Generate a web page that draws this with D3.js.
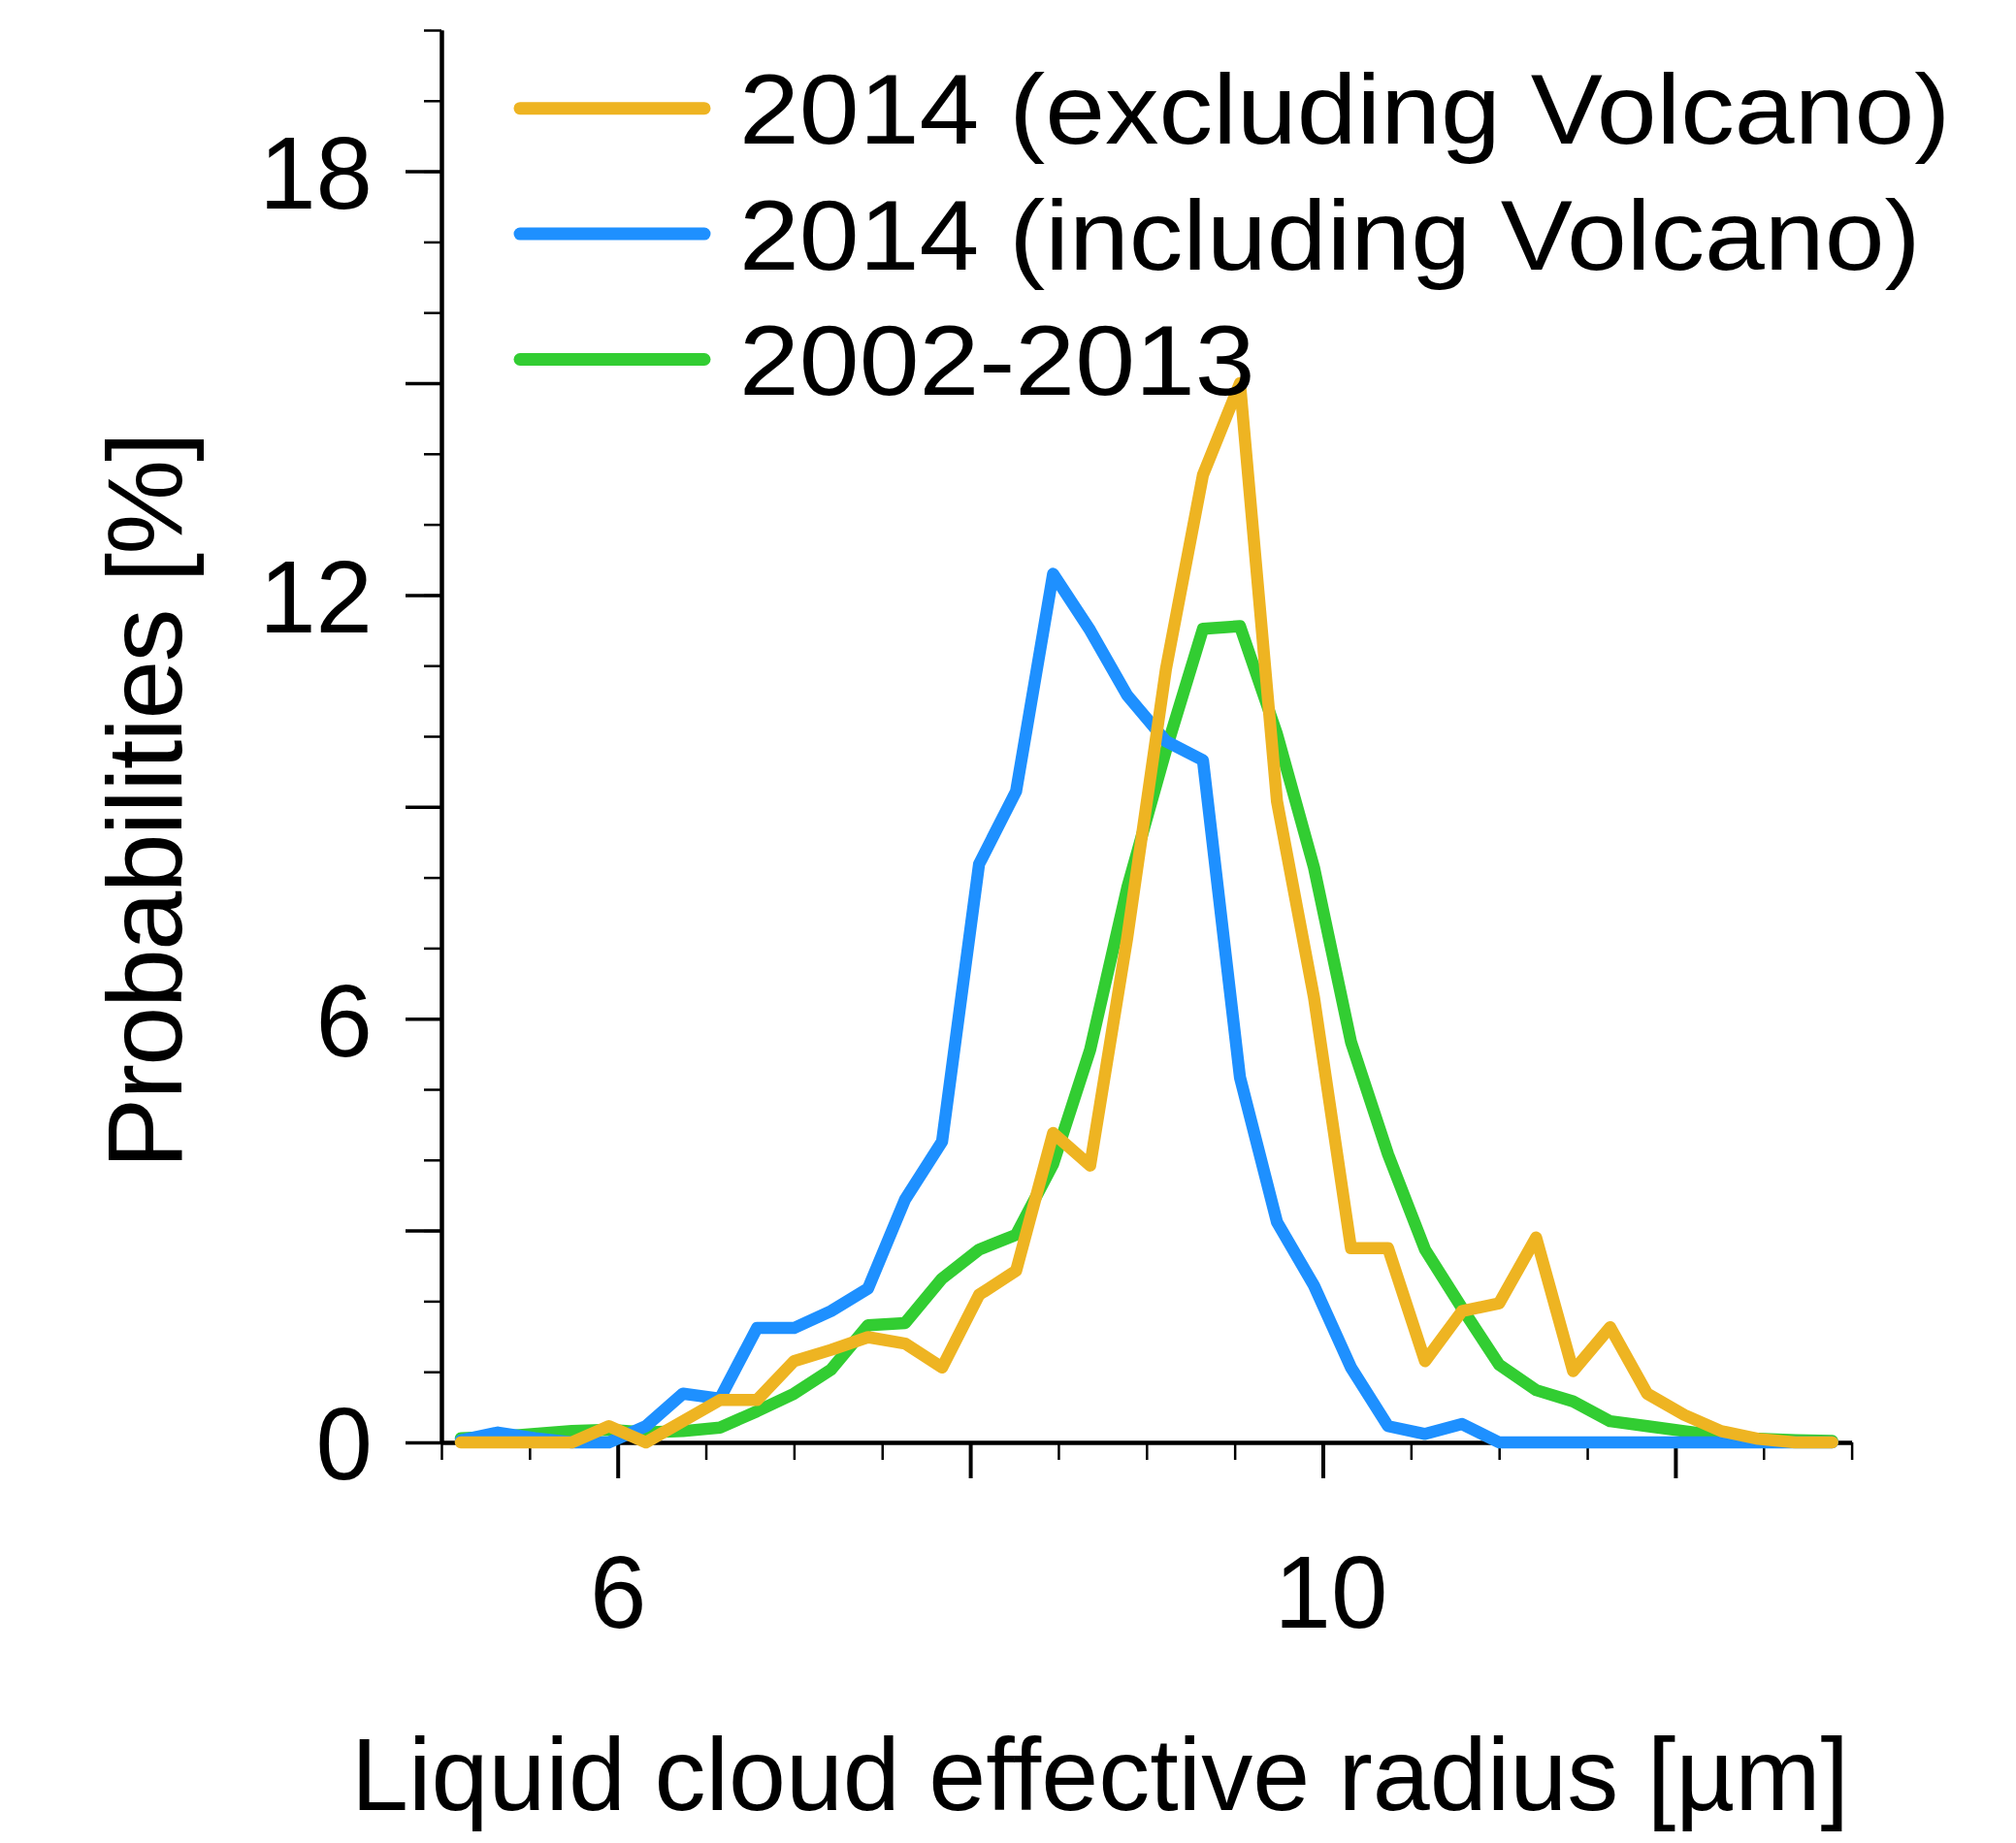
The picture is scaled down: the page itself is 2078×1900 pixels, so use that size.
<!DOCTYPE html>
<html>
<head>
<meta charset="utf-8">
<script src="https://cdn.jsdelivr.net/npm/d3@7"></script>
<style>
    body { margin: 0; background: #ffffff; }
    text { font-family: "Liberation Sans", Arial, Helvetica, sans-serif; fill: #000000; }
</style>
</head>
<body>
<div id="chart"></div>
<script>
// bin centres of the effective radius histogram [um]
const radius = [5.11, 5.32, 5.53, 5.74, 5.95, 6.16, 6.37, 6.58, 6.79, 7.00,
    7.21, 7.42, 7.63, 7.84, 8.05, 8.26, 8.47, 8.68, 8.89, 9.11,
    9.32, 9.53, 9.74, 9.95, 10.16, 10.37, 10.58, 10.79, 11.00, 11.21,
    11.42, 11.63, 11.84, 12.05, 12.26, 12.47, 12.68, 12.89];

// probabilities [%]
const excludingVolcano = [0, 0, 0, 0, 0.23, 0, 0.30, 0.60, 0.60, 1.15,
    1.31, 1.49, 1.40, 1.06, 2.09, 2.43, 4.38, 3.92, 7.14, 10.95,
    13.7, 15.0, 9.08, 6.30, 2.75, 2.75, 1.15, 1.86, 1.97, 2.90,
    1.01, 1.63, 0.69, 0.39, 0.16, 0.05, 0, 0];
const includingVolcano = [0.03, 0.14, 0.06, 0, 0, 0.23, 0.69, 0.62, 1.62, 1.62,
    1.86, 2.18, 3.44, 4.26, 8.19, 9.22, 12.3, 11.5, 10.58, 9.93,
    9.66, 5.17, 3.12, 2.22, 1.06, 0.23, 0.12, 0.26, 0, 0,
    0, 0, 0, 0, 0, 0, 0, 0];
const climatology = [0.06, 0.08, 0.12, 0.16, 0.18, 0.14, 0.16, 0.21, 0.44, 0.69,
    1.03, 1.66, 1.69, 2.32, 2.73, 2.94, 3.94, 5.56, 7.85, 9.8,
    11.52, 11.56, 10.03, 8.14, 5.67, 4.08, 2.73, 1.90, 1.10, 0.74,
    0.58, 0.30, 0.23, 0.16, 0.09, 0.05, 0.03, 0.02];

const seriesNames = ["2014 (excluding Volcano)", "2014 (including Volcano)", "2002-2013"];
const seriesColors = ["#eeb422", "#1e90ff", "#32cd32"];

const xLabelTicks = [6, 10];
const yLabelTicks = [0, 6, 12, 18];

let width = 2078,
    height = 1900;

var svg = d3
    .select("#chart")
    .append("svg")
    .attr("width", width)
    .attr("height", height);

var x = d3.scaleLinear().domain([5, 13]).range([455, 1908.6]);
var y = d3.scaleLinear().domain([0, 20]).range([1487, 31]);

// ---- x axis: minor ticks every 0.5, major every 2, labels at 6 and 10
var xMinor = svg
    .append("g")
    .attr("transform", "translate(0," + y(0) + ")")
    .call(d3.axisBottom(x).tickValues(d3.range(5, 13.001, 0.5)).tickSize(18).tickSizeOuter(0).tickFormat(""));
xMinor.selectAll(".tick line").attr("stroke-width", 2.5);

var xMajor = svg
    .append("g")
    .attr("transform", "translate(0," + y(0) + ")")
    .call(d3.axisBottom(x).tickValues([6, 8, 10, 12]).tickSize(37).tickSizeOuter(0)
        .tickFormat(function (d) { return xLabelTicks.indexOf(d) >= 0 ? d : ""; }));
xMajor.selectAll(".tick line").attr("stroke-width", 4);
xMajor.selectAll("text")
    .attr("y", 191)
    .attr("dy", 0)
    .attr("dx", function (d) { return d >= 10 ? 8 : 0; })
    .style("font-size", "105px");

// ---- y axis: minor ticks every 1, major every 3, labels every 6
var yMinor = svg
    .append("g")
    .attr("transform", "translate(" + x(5) + ",0)")
    .call(d3.axisLeft(y).tickValues(d3.range(0, 20.001, 1)).tickSize(18).tickSizeOuter(0).tickFormat(""));
yMinor.selectAll(".tick line").attr("stroke-width", 2.5);

var yMajor = svg
    .append("g")
    .attr("transform", "translate(" + x(5) + ",0)")
    .call(d3.axisLeft(y).tickValues(d3.range(0, 18.001, 3)).tickSize(37).tickSizeOuter(0)
        .tickFormat(function (d) { return yLabelTicks.indexOf(d) >= 0 ? d : ""; }));
yMajor.selectAll(".tick line").attr("stroke-width", 3.5);
yMajor.selectAll("text")
    .attr("x", -71)
    .attr("dy", "0.36em")
    .style("font-size", "105px");

svg.selectAll(".domain").attr("stroke-width", 4);

// ---- the three curves (drawn green, blue, orange so orange ends on top)
var line = d3
    .line()
    .x(function (d, i) { return x(radius[i]); })
    .y(function (d) { return y(d); });

[climatology, includingVolcano, excludingVolcano].forEach(function (values, k) {
    svg.append("path")
        .datum(values)
        .attr("d", line)
        .attr("fill", "none")
        .attr("stroke", seriesColors[2 - k])
        .attr("stroke-width", 12.5)
        .attr("stroke-linejoin", "round")
        .attr("stroke-linecap", "round");
});

// ---- axis titles
svg.append("text")
    .attr("x", 1134)
    .attr("y", 1866)
    .attr("text-anchor", "middle")
    .style("font-size", "106px")
    .text("Liquid cloud effective radius [µm]");

svg.append("text")
    .attr("transform", "translate(187,826) rotate(-90)")
    .attr("text-anchor", "middle")
    .style("font-size", "110px")
    .style("letter-spacing", "-1.8px")
    .text("Probabilities [%]");

// ---- legend
var legend = svg
    .append("g")
    .attr("class", "legend")
    .attr("transform", "translate(536, 111.7)");

legend
    .selectAll("line")
    .data(seriesNames)
    .enter()
    .append("line")
    .attr("x1", 0)
    .attr("x2", 190)
    .attr("y1", function (d, i) { return i * 129.4; })
    .attr("y2", function (d, i) { return i * 129.4; })
    .attr("stroke", function (d, i) { return seriesColors[i]; })
    .attr("stroke-width", 13)
    .attr("stroke-linecap", "round");

// legend labels are a little wider than the plain font, so stretch them
legend
    .selectAll("text")
    .data(seriesNames)
    .enter()
    .append("text")
    .attr("transform", function (d, i) {
        return "translate(226," + (i * 129.4 + 36.5) + ") scale(1.09,1)";
    })
    .style("font-size", "102px")
    .text(function (d) { return d; });
</script>
</body>
</html>
